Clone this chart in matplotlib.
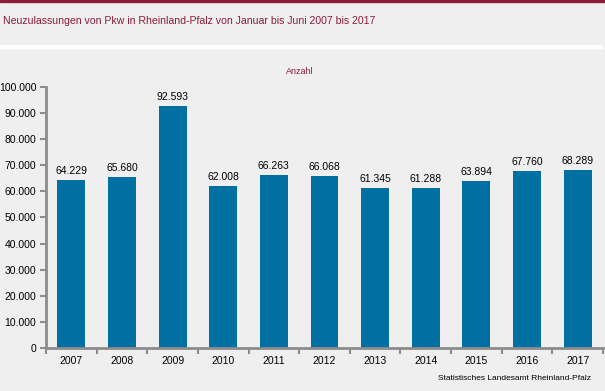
import matplotlib
matplotlib.use('Agg')
import matplotlib.pyplot as plt
from matplotlib.patches import Rectangle

years = ['2007', '2008', '2009', '2010', '2011', '2012', '2013', '2014', '2015', '2016', '2017']
values = [64229, 65680, 92593, 62008, 66263, 66068, 61345, 61288, 63894, 67760, 68289]
yticks = [0, 10000, 20000, 30000, 40000, 50000, 60000, 70000, 80000, 90000, 100000]

BG = '#EEEFEE'
BAR = '#0070A3'
RED = '#8C1C3C'
AXC = '#8C8C8C'

plt.rcParams['font.family'] = ['Liberation Sans', 'DejaVu Sans']


def fmt(v):
    return '{:,}'.format(v).replace(',', '.')


fig = plt.figure(figsize=(6.05, 3.91), dpi=100, facecolor=BG)

# top border and white separator
fig.patches.append(Rectangle((0, 1 - 2 / 391), 1, 2 / 391, transform=fig.transFigure,
                             color=RED, zorder=0))
fig.patches.append(Rectangle((0, 1 - 48 / 391), 0.995, 3 / 391, transform=fig.transFigure,
                             color='white', zorder=0))

fig.text(3 / 605, 1 - 21 / 391, 'Neuzulassungen von Pkw in Rheinland-Pfalz von Januar bis Juni 2007 bis 2017',
         color=RED, fontsize=7.6, va='center', ha='left')
fig.text(300 / 605, 1 - 71 / 391, 'Anzahl', color=RED, fontsize=6.5, va='center', ha='center')
fig.text(591 / 605, 1 - 378 / 391, 'Statistisches Landesamt Rheinland-Pfalz', color='black',
         fontsize=6, va='center', ha='right')

ax = fig.add_axes([46 / 605, 1 - 348 / 391, 557 / 605, 261 / 391])
ax.set_facecolor(BG)
x = range(len(years))
ax.bar(x, values, width=0.55, color=BAR, zorder=2)
for xi, v in zip(x, values):
    ax.text(xi, v + 1500, fmt(v), ha='center', va='bottom', fontsize=7.5, color='black')

ax.set_xlim(-0.5, len(years) - 0.5)
ax.set_ylim(0, 100000)
ax.set_yticks(yticks)
ax.set_yticklabels([fmt(t) for t in yticks], fontsize=7.5)
ax.set_xticks(list(x))
ax.set_xticklabels(years, fontsize=7.5)
ax.tick_params(axis='x', length=0, pad=6)
ax.set_xticks([i - 0.5 for i in range(len(years) + 1)], minor=True)
ax.tick_params(axis='x', which='minor', length=4, color=AXC, width=1.5)
ax.tick_params(axis='y', length=4, color=AXC, width=1.5, pad=3)

for s in ['top', 'right']:
    ax.spines[s].set_visible(False)
for s in ['left', 'bottom']:
    ax.spines[s].set_color(AXC)
    ax.spines[s].set_linewidth(2)

fig.savefig('out.png', dpi=100, facecolor=BG)
